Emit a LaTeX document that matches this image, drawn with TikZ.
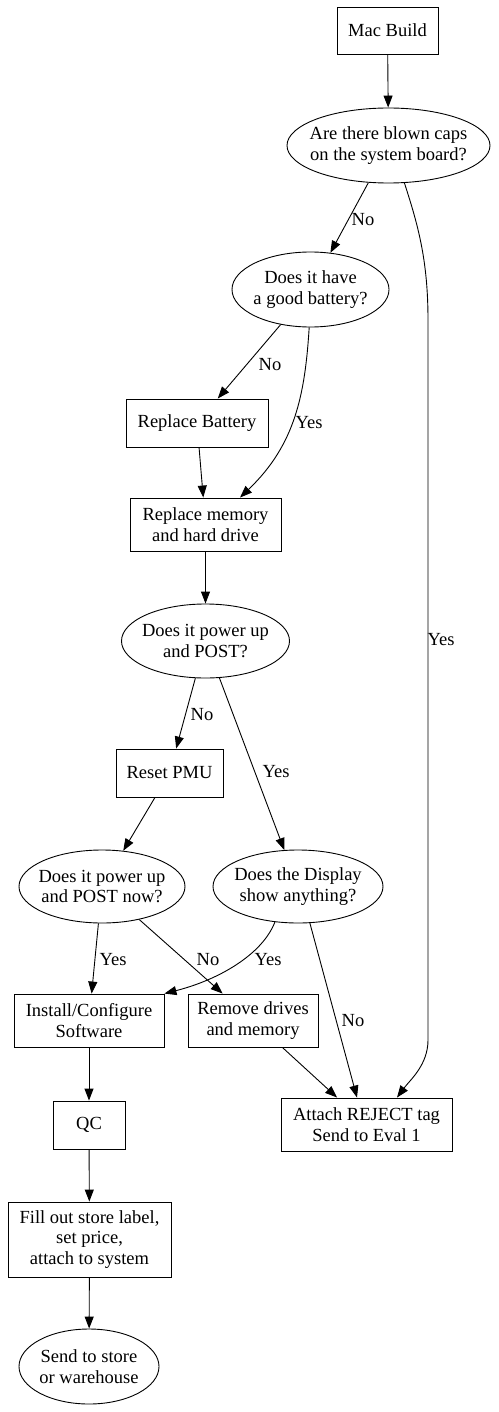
\documentclass[tikz,border=0pt]{standalone}
\usepackage{fontspec}
\setmainfont{Liberation Serif}
\usetikzlibrary{shapes.geometric,arrows.meta,calc}
\begin{document}
\begin{tikzpicture}[x=1pt,y=-1pt,
  every node/.style={font=\fontsize{18.5}{20.7}\selectfont},
  box/.style={draw, rectangle, inner sep=0pt, align=center, line width=0.9pt},
  oval/.style={draw, ellipse, inner xsep=-12pt, inner ysep=-4pt, align=center, line width=0.9pt},
  lbl/.style={inner sep=1pt},
  conn/.style={draw, line width=0.9pt, -{Triangle[length=12pt,width=9pt]}}
]
\useasboundingbox (0,0) rectangle (498,1412);
% nodes
\node[box, minimum width=101pt, minimum height=47pt] (mac) at (387.5,30.5) {Mac Build};
\node[oval, minimum width=203pt, minimum height=75pt] (caps) at (388.5,145.5) {Are there blown caps\\on the system board?};
\node[oval, minimum width=157pt, minimum height=75pt] (battery) at (310.5,289.5) {Does it have\\a good battery?};
\node[box, minimum width=142pt, minimum height=48pt] (rbat) at (197,423) {Replace Battery};
\node[box, minimum width=151pt, minimum height=53pt] (rmem) at (205.5,524.5) {Replace memory\\and hard drive};
\node[oval, minimum width=168pt, minimum height=74pt] (post) at (205.5,641) {Does it power up\\and POST?};
\node[box, minimum width=107pt, minimum height=48pt] (reset) at (169.5,773) {Reset PMU};
\node[oval, minimum width=166pt, minimum height=73pt] (postnow) at (102,886.5) {Does it power up\\and POST now?};
\node[oval, minimum width=170pt, minimum height=73pt] (display) at (298,886.5) {Does the Display\\show anything?};
\node[box, minimum width=150pt, minimum height=53pt] (install) at (89,1020.5) {Install/Configure\\Software};
\node[box, minimum width=130pt, minimum height=53pt] (remove) at (253,1020.5) {Remove drives\\and memory};
\node[box, minimum width=171pt, minimum height=53pt] (reject) at (366.5,1124.5) {Attach REJECT tag\\Send to Eval 1};
\node[box, minimum width=72pt, minimum height=48pt] (qc) at (89,1125) {QC};
\node[box, minimum width=163pt, minimum height=75pt] (fill) at (89.5,1239.5) {Fill out store label,\\set price,\\attach to system};
\node[oval, minimum width=140pt, minimum height=75pt] (send) at (89,1366.5) {Send to store\\or warehouse};
% connectors
\path[conn] (mac) -- (caps);
\path[conn] (caps) -- (battery);
\path[conn] (caps.-67) .. controls (418,225) and (428,260) .. (428,320) -- (428,1040) .. controls (428,1065) and (410,1080) .. ($(reject.north)+(30.5,0)$);
\path[conn] (battery) -- (rbat);
\path[conn] (battery.-92) .. controls (305,395) and (295,445) .. ($(rmem.north)+(34.5,0)$);
\path[conn] (rbat) -- (rmem);
\path[conn] (rmem) -- (post);
\path[conn] (post) -- (reset);
\path[conn] (post) -- (display);
\path[conn] (reset) -- (postnow);
\path[conn] (postnow) -- (install);
\path[conn] (postnow) -- (remove);
\path[conn] (display.-123) .. controls (262,955) and (218,980) .. (install.north east);
\path[conn] (display.-72) -- ($(reject.north)+(-9.5,0)$);
\path[conn] (remove) -- (reject);
\path[conn] (install) -- (qc);
\path[conn] (qc) -- (fill);
\path[conn] (fill) -- (send);
% labels
\node[lbl] (l1) at (363,220) {No};
\node[lbl] (l2) at (441,640) {Yes};
\node[lbl] (l3) at (270,365) {No};
\node[lbl] (l4) at (309,423) {Yes};
\node[lbl] (l5) at (202,715) {No};
\node[lbl] (l6) at (276,772) {Yes};
\node[lbl] (l7) at (113,960) {Yes};
\node[lbl] (l8) at (208,960) {No};
\node[lbl] (l9) at (268,960) {Yes};
\node[lbl] (l10) at (353,1021) {No};
\end{tikzpicture}
\end{document}
